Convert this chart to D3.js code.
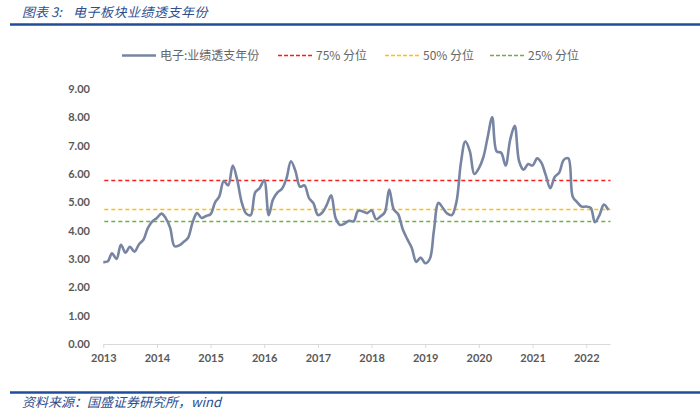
<!DOCTYPE html>
<html><head><meta charset="utf-8">
<script src="https://cdn.jsdelivr.net/npm/d3@7"></script>
<style>
html,body{margin:0;padding:0;background:#fff;}
svg{display:block;}
</style></head>
<body>
<svg id="chart" width="700" height="416"></svg>
<script>
const titleLabel = "图表 3:";
const titleText = "电子板块业绩透支年份";
const source = "资料来源：国盛证券研究所，wind";
const seriesName = "电子:业绩透支年份";
const startYear = 2013;
const values = [
2.89,2.92,3.2,3.0,3.5,3.22,3.43,3.26,3.52,3.68,4.1,4.33,
4.45,4.6,4.45,4.1,3.45,3.48,3.6,3.75,4.3,4.62,4.45,4.52,
4.58,5.0,5.2,5.75,5.6,6.3,5.8,5.0,4.6,4.55,5.35,5.5,
5.78,4.55,5.1,5.35,5.48,5.85,6.45,6.1,5.55,5.6,5.15,4.97,
4.55,4.65,4.9,5.25,4.45,4.2,4.25,4.35,4.33,4.7,4.68,4.62,
4.72,4.4,4.5,4.65,5.45,4.75,4.58,4.05,3.7,3.4,2.9,3.05,
2.85,3.0,4.0,4.98,4.8,4.6,4.55,5.0,6.4,7.15,6.8,6.0,
6.2,6.6,7.3,8.0,6.8,6.75,6.3,7.2,7.7,6.45,6.15,6.35,
6.3,6.55,6.4,5.95,5.5,5.9,6.05,6.5,6.55,5.2,5.0,4.85,
4.85,4.8,4.3,4.55,4.92,4.73
];
const refNames = ["75% 分位","50% 分位","25% 分位"];
const refValues = [5.80, 4.76, 4.34];
const refColors = ["#FF1A1A","#FFC000","#70AD47"];
const yTicks = [0,1,2,3,4,5,6,7,8,9];
const xYears = [2013,2014,2015,2016,2017,2018,2019,2020,2021,2022];

const data = values.map((v,i)=>({date:new Date(Date.UTC(startYear, i, 1)), v}));

const svg = d3.select("#chart");
const pLeft = 103.3, pRight = 610.5, pTop = 89, pBottom = 344;

const x = d3.scaleUtc()
  .domain([new Date(Date.UTC(2013,0,1)), new Date(Date.UTC(2022,5,15))])
  .range([pLeft, pRight]);
const y = d3.scaleLinear().domain([0,9]).range([pBottom, pTop]);

const cjk = "'Noto Sans CJK SC', sans-serif";
// title
svg.append("text").attr("x",22).attr("y",17)
  .attr("font-family",cjk).attr("font-size",13)
  .attr("font-style","italic").attr("fill","#2E4E8F").text(titleLabel);
svg.append("text").attr("x",73).attr("y",17)
  .attr("font-family",cjk).attr("font-size",13).attr("letter-spacing",0.5)
  .attr("font-style","italic").attr("fill","#2E4E8F").text(titleText);
svg.append("line").attr("x1",10).attr("x2",700).attr("y1",24.5).attr("y2",24.5)
  .attr("stroke","#1F4E99").attr("stroke-width",2.5);

// footer
svg.append("line").attr("x1",10).attr("x2",700).attr("y1",392.5).attr("y2",392.5)
  .attr("stroke","#1F4E99").attr("stroke-width",2.5);
svg.append("text").attr("x",22).attr("y",407)
  .attr("font-family",cjk).attr("font-size",13)
  .attr("font-style","italic").attr("fill","#2E4E8F").text(source);

// y axis labels
const yAxis = d3.axisLeft(y).tickValues(yTicks).tickFormat(d3.format(".2f")).tickSize(0).tickPadding(0);
const gy = svg.append("g").attr("transform",`translate(90,0)`).call(yAxis);
gy.select(".domain").remove();
gy.selectAll("text").attr("font-family","Lato, 'Open Sans', sans-serif").attr("font-size",11)
  .attr("font-weight","bold").attr("fill","#595959");

// x axis
const xAxis = d3.axisBottom(x)
  .tickValues(xYears.map(yr=>new Date(Date.UTC(yr,0,1))))
  .tickFormat(d3.utcFormat("%Y")).tickSize(4).tickPadding(6);
const gx = svg.append("g").attr("transform",`translate(0,${pBottom})`).call(xAxis);
gx.select(".domain").attr("stroke","#D9D9D9").attr("d",`M${pLeft},0.5H${pRight}`);
gx.selectAll(".tick line").attr("stroke","#D9D9D9");
gx.selectAll("text").attr("font-family","Lato, 'Open Sans', sans-serif").attr("font-size",11)
  .attr("font-weight","bold").attr("fill","#595959");

// reference lines
refValues.forEach((v,i)=>{
  const yy = Math.round(y(v)) + 0.5;
  svg.append("line").attr("x1",pLeft+1).attr("x2",pRight).attr("y1",yy).attr("y2",yy)
    .attr("stroke",refColors[i]).attr("stroke-width",1.5).attr("stroke-dasharray","4,3");
});

// series line
const line = d3.line().x(d=>x(d.date)).y(d=>y(d.v)).curve(d3.curveCatmullRom.alpha(0.5));
svg.append("path").datum(data).attr("d",line).attr("fill","none")
  .attr("stroke","#7785A3").attr("stroke-width",2.6).attr("stroke-linejoin","round");

// legend
const lg = svg.append("g");
const items = [
  {x:122, name:seriesName, color:"#7785A3", dash:null, w:2.6},
  {x:278, name:refNames[0], color:refColors[0], dash:"4,2", w:1.5},
  {x:385, name:refNames[1], color:refColors[1], dash:"4,2", w:1.5},
  {x:490, name:refNames[2], color:refColors[2], dash:"4,2", w:1.5}
];
items.forEach(it=>{
  lg.append("line").attr("x1",it.x).attr("x2",it.x+34).attr("y1",55.5).attr("y2",55.5)
    .attr("stroke",it.color).attr("stroke-width",it.w).attr("stroke-dasharray",it.dash);
  lg.append("text").attr("x",it.x+38).attr("y",59.5).attr("font-family",cjk)
    .attr("font-size",12).attr("fill","#666666").text(it.name);
});
</script>
</body></html>
